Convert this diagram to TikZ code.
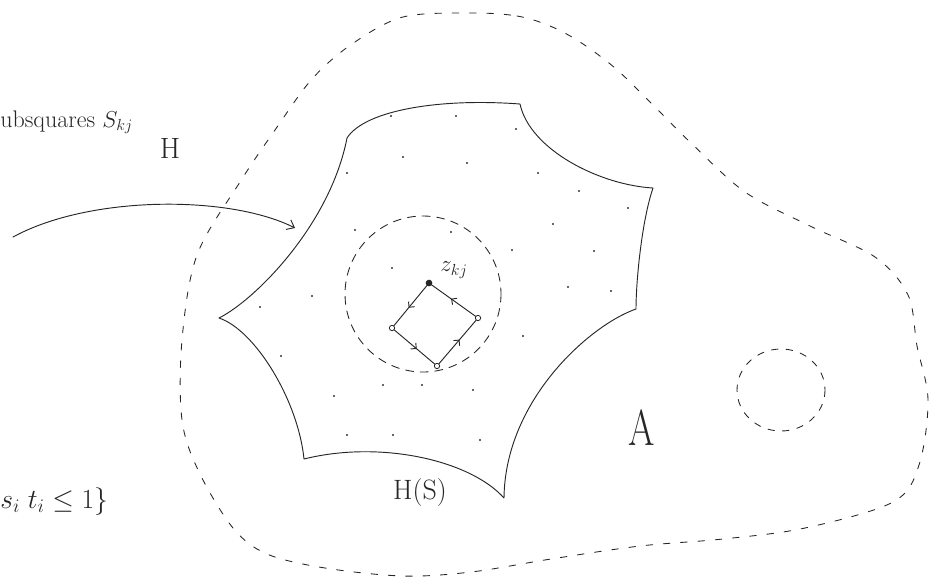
\documentclass[tikz,border=0pt]{standalone}
\usetikzlibrary{arrows.meta,decorations.markings}
\begin{document}
\begin{tikzpicture}[x=0.75pt,y=-0.75pt,
  ink/.style={draw=black!85, line width=0.7pt, line cap=round, line join=round},
  dashink/.style={ink, line width=0.65pt, dash pattern=on 5pt off 8pt},
  vtx/.style={circle, draw=black!85, fill=white, inner sep=0pt, minimum size=4pt, line width=0.6pt},
  topvtx/.style={circle, fill=black!85, inner sep=0pt, minimum size=5pt},
  lbl/.style={inner sep=0pt, text=black!85},
  midarrow/.style={postaction={decorate}, decoration={markings,
     mark=at position 0.55 with {\arrow{Straight Barb[length=3pt,width=6pt]}}}}
]
\useasboundingbox (0,0) rectangle (948,583);

% outer dashed region A
\draw[dashink] plot[smooth cycle, tension=0.55] coordinates {
 (471,13) (517,16) (550,26) (580,42) (615,68) (650,102) (690,142)
 (745,192) (810,226) (875,257) (908,295) (917,346) (928,400) (919,465)
 (893,502) (805,528) (723,539) (640,546) (551,559) (471,572) (403,576)
 (325,568) (267,554) (233,528) (199,472) (182,420) (182,340) (197,255)
 (240,182) (275,130) (312,79) (352,44) (403,17)};

% star-shaped region H(S)
\draw[ink] (219,318)
  .. controls (255,300) and (330,225) .. (347,138)
  .. controls (365,110) and (440,98) .. (520,104)
  .. controls (530,150) and (600,185) .. (653,188)
  .. controls (642,220) and (636,280) .. (636,309)
  .. controls (590,325) and (505,400) .. (504,498)
  .. controls (470,460) and (380,440) .. (304,459)
  .. controls (298,400) and (255,330) .. cycle;

% dots (images of subsquare points)
\foreach \p in {(391,116),(456,116),(516,129),(347,173),(403,157),(467,163),
  (538,173),(579,191),(628,208),(553,224),(355,230),(451,232),(512,250),
  (594,251),(392,268),(568,287),(611,291),(312,296),(260,307),(523,336),
  (281,356),(383,385),(422,385),(473,390),(334,396),(347,435),(393,435),(480,440)}
  \fill[black!80] \p circle (1.2);

% inner dashed circle
\draw[dashink, dash pattern=on 6pt off 5pt] (423,294) ellipse (78 and 78);

% small dashed circle
\draw[dashink, dash pattern=on 5pt off 6pt] (781,390) ellipse (44 and 41);

% small square with oriented boundary
\coordinate (T) at (429,283);
\coordinate (R) at (478,318);
\coordinate (B) at (437,366);
\coordinate (L) at (392,328);
\draw[ink, midarrow] (L) -- (B);
\draw[ink, midarrow] (B) -- (R);
\draw[ink, midarrow] (R) -- (T);
\draw[ink, midarrow] (T) -- (L);
\node[topvtx] (tv) at (T) {};
\node[vtx] (rv) at (R) {};
\node[vtx] (bv) at (B) {};
\node[vtx] (lv) at (L) {};
\node[lbl, font=\fontsize{17}{19}\selectfont] (z) at (454,270) {$z_{kj}$};

% arrow from the left
\coordinate (arrstart) at (13,237);
\coordinate (arrtip) at (295,228);
\draw[ink, -{Straight Barb[length=5pt,width=8pt]}] (arrstart)
  .. controls (90,195) and (230,195) .. (arrtip);

% labels
\node[lbl, anchor=base west, font=\fontsize{18}{20}\selectfont] (subsq) at (0,127) {ubsquares $S_{kj}$};
\node[lbl, font=\fontsize{22}{24}\selectfont] (Hlbl) at (170,148) {H};
\node[lbl, anchor=base west, font=\fontsize{20}{22}\selectfont] (setlbl) at (0,508) {$s_i\; t_i \le 1\}$};
\node[lbl, font=\fontsize{21}{23}\selectfont] (HS) at (420,493) {H(S)};
\node[lbl, font=\fontsize{38}{40}\selectfont] (A) at (642,428) {\scalebox{0.75}[1]{A}};
\end{tikzpicture}
\end{document}
